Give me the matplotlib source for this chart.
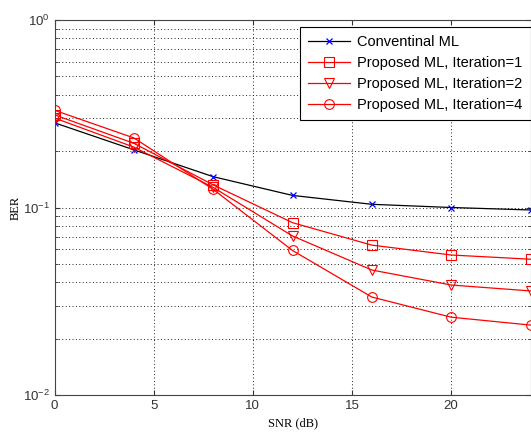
import matplotlib
matplotlib.use('Agg')
import matplotlib.pyplot as plt
import numpy as np

snr = [0, 4, 8, 12, 16, 20, 24]
ber_conv = [0.283, 0.203, 0.146, 0.116, 0.104, 0.100, 0.097]
ber_it1 = [0.312, 0.220, 0.132, 0.083, 0.063, 0.0558, 0.053]
ber_it2 = [0.300, 0.210, 0.128, 0.0705, 0.0464, 0.0386, 0.0359]
ber_it4 = [0.330, 0.235, 0.125, 0.059, 0.0333, 0.026, 0.0236]

plt.rcParams['font.family'] = ['Liberation Sans', 'DejaVu Sans']

fig = plt.figure(figsize=(5.31, 4.37), dpi=100)
ax = fig.add_axes([54.5/531, 42/437, 476/531, 375/437])

ax.semilogy(snr, ber_conv, color='black', lw=0.9, marker='x', ms=4,
            mec='blue', mew=0.9, label='Conventinal ML')
ax.semilogy(snr, ber_it1, color='red', lw=0.9, marker='s', ms=7,
            mfc='none', mec='red', mew=0.8, label='Proposed ML, Iteration=1')
ax.semilogy(snr, ber_it2, color='red', lw=0.9, marker='v', ms=7,
            mfc='none', mec='red', mew=0.8, label='Proposed ML, Iteration=2')
ax.semilogy(snr, ber_it4, color='red', lw=0.9, marker='o', ms=7,
            mfc='none', mec='red', mew=0.8, label='Proposed ML, Iteration=4')

ax.set_xlim(0, 24)
ax.set_ylim(1e-2, 1)
ax.set_xticks([0, 5, 10, 15, 20])
dots = (0, (1, 2.5))
ax.grid(True, which='major', linestyle=dots, color='#222222', lw=0.7)
ax.grid(True, which='minor', axis='y', linestyle=dots, color='#222222', lw=0.7)
ax.tick_params(which='both', direction='in', labelsize=9.5, colors='#333333',
               top=True, right=True)
ax.tick_params(which='minor', length=2)
for s in ax.spines.values():
    s.set_color('#444444')

ax.set_xlabel('SNR (dB)', fontfamily='Liberation Serif', fontsize=9, labelpad=4)
ax.set_ylabel('BER', fontfamily='Liberation Serif', fontsize=9)
ax.yaxis.set_label_coords(-0.069, 0.5)

leg = ax.legend(loc='upper right', bbox_to_anchor=(1.0, 0.982), fontsize=10.5,
                fancybox=False, framealpha=1, edgecolor='black',
                borderaxespad=0, handlelength=2.9, handletextpad=0.5,
                labelspacing=0.48, borderpad=0.55)
leg.get_frame().set_linewidth(0.8)

fig.savefig('out.png', dpi=100)
